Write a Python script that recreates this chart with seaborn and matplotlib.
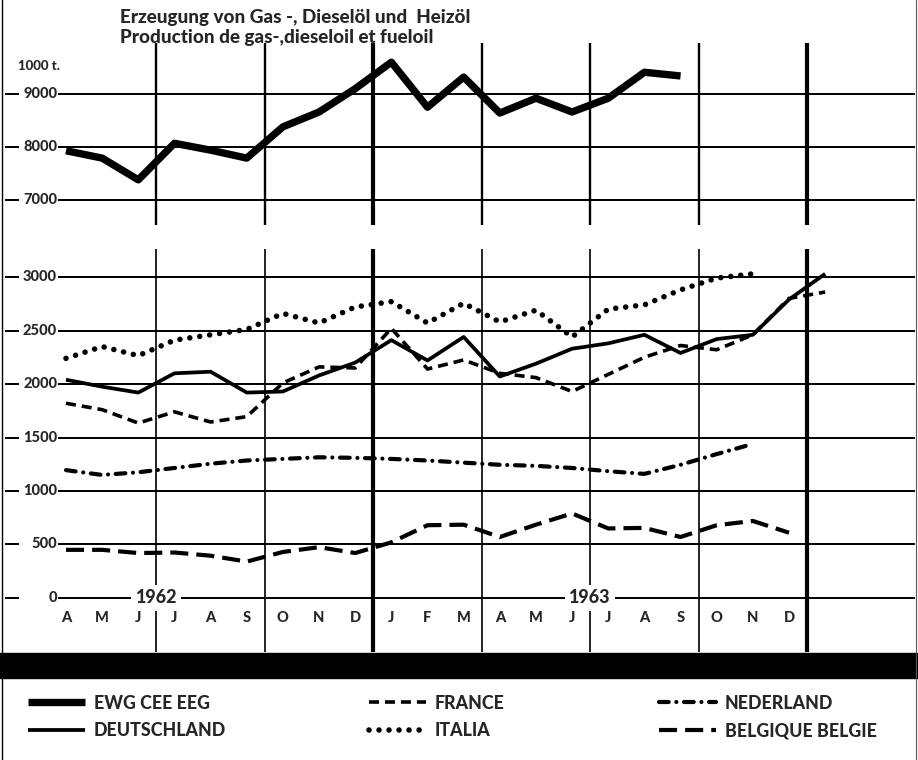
import seaborn as sns
import matplotlib.pyplot as plt
from matplotlib.lines import Line2D
from matplotlib.patches import Rectangle
import numpy as np

# Monate April 1962 .. Dezember 1963 (+ Januar 1964 fuer D und F)
months = ['A', 'M', 'J', 'J', 'A', 'S', 'O', 'N', 'D',
          'J', 'F', 'M', 'A', 'M', 'J', 'J', 'A', 'S', 'O', 'N', 'D']
years = ['1962', '1963']

# 1000 t
ewg = [7930, 7790, 7380, 8070, 7940, 7790, 8380, 8660, 9100,
       9600, 8750, 9320, 8640, 8920, 8660, 8920, 9410, 9340]
deutschland = [2040, 1975, 1920, 2100, 2115, 1920, 1930, 2080, 2200,
               2410, 2220, 2440, 2070, 2190, 2330, 2380, 2460, 2290,
               2420, 2460, 2790, 3030]
france = [1820, 1760, 1635, 1740, 1645, 1695, 2010, 2160, 2150,
          2520, 2140, 2225, 2100, 2060, 1930, 2090, 2250, 2360,
          2320, 2460, 2800, 2860]
italia = [2240, 2350, 2265, 2410, 2460, 2510, 2660, 2570, 2720,
          2770, 2570, 2755, 2580, 2690, 2440, 2700, 2740, 2880,
          2990, 3030]
nederland = [1195, 1150, 1175, 1215, 1255, 1285, 1300, 1315, 1310,
             1300, 1285, 1265, 1245, 1235, 1215, 1185, 1160, 1245,
             1345, 1440]
belgique = [450, 450, 420, 425, 395, 340, 430, 475, 420,
            520, 680, 685, 570, 685, 790, 650, 655, 570, 680, 720, 610]

top_ticks = [9000, 8000, 7000]
bot_ticks = [3000, 2500, 2000, 1500, 1000, 500, 0]

sns.set_style("white")
plt.rcParams['font.family'] = ['Lato', 'DejaVu Sans']
plt.rcParams['lines.scale_dashes'] = False
BOLD = 'black'

W, H = 918, 760
fig = plt.figure(figsize=(W / 100, H / 100), dpi=100)


def px_axes(x0, y0, x1, y1):
    return fig.add_axes([x0 / W, 1 - y1 / H, (x1 - x0) / W, (y1 - y0) / H])


# Pixelraster: Monat i liegt bei 66 + 36.15 * i
step, orig = 36.15, 66


def gx(p):
    return (p - orig) / step


ax_top = px_axes(3, 43, 916, 225)
ax_bot = px_axes(3, 249, 916, 652)
ax_top.set_ylim(6528, 9962)
ax_bot.set_ylim(-505, 3262)
for ax in (ax_top, ax_bot):
    ax.set_xlim(gx(3), gx(916))
    ax.set_axis_off()

# Gitter + Beschriftung
def grid(ax, ticks, size):
    for v in ticks:
        ax.hlines(v, gx(5), gx(19), color='black', lw=1.4, zorder=1)
        ax.hlines(v, gx(58), gx(915), color='black', lw=1.4, zorder=1)
        ax.text(gx(57), v, str(v), ha='right', va='center', fontsize=size,
                weight=BOLD, zorder=5)


grid(ax_top, top_ticks, 10.5)
grid(ax_bot, bot_ticks, 10.5)
ax_top.text(gx(18), 9528, '1000 t.', ha='left', va='center', fontsize=9.5,
            weight=BOLD)

bounds = [2.5, 5.5, 8.5, 11.5, 14.5, 17.5, 20.5]
for b in bounds:
    thick = b in (8.5, 20.5)
    ax_top.axvline(b, color='black', lw=3 if thick else 1.7, zorder=1)
    ax_bot.axvline(b, color='black', lw=3 if thick else 1.2, zorder=1)

# Linien
sns.lineplot(x=np.arange(len(ewg)), y=ewg, ax=ax_top, color='black', lw=5.3,
             solid_capstyle='butt', zorder=3)
h_ewg = ax_top.lines[-1]

sns.lineplot(x=np.arange(len(deutschland)), y=deutschland, ax=ax_bot,
             color='black', lw=2.7, solid_capstyle='butt', zorder=3)
h_de = ax_bot.lines[-1]
sns.lineplot(x=np.arange(len(france)), y=france, ax=ax_bot, color='black',
             lw=2.6, linestyle=(0, (7.2, 4.3)), dash_capstyle='butt', zorder=3)
h_fr = ax_bot.lines[-1]
sns.lineplot(x=np.arange(len(italia)), y=italia, ax=ax_bot, color='black',
             lw=4.0, linestyle=(0, (0.01, 7.2)), dash_capstyle='round', zorder=3)
h_it = ax_bot.lines[-1]
sns.lineplot(x=np.arange(len(nederland)), y=nederland, ax=ax_bot,
             color='black', lw=3.0, linestyle=(0, (7.0, 5.5, 0.01, 5.5)),
             dash_capstyle='round', zorder=3)
h_nl = ax_bot.lines[-1]
sns.lineplot(x=np.arange(len(belgique)), y=belgique, ax=ax_bot,
             color='black', lw=3.0, linestyle=(0, (13, 5.8)),
             dash_capstyle='butt', zorder=3)
h_be = ax_bot.lines[-1]

for ax in (ax_top, ax_bot):
    if ax.get_legend():
        ax.get_legend().remove()

# Monate und Jahre
for i, m in enumerate(months):
    ax_bot.text(i, -187, m, ha='center', va='center', fontsize=10.5,
                weight=BOLD)
for xpos, y in zip([2.5, 14.5], years):
    ax_bot.text(xpos, 0, y, ha='center', va='center', fontsize=13,
                weight=BOLD, zorder=6,
                bbox=dict(fc='white', ec='none', pad=3))

# Titel
fig.text(120 / W, 1 - 17 / H, 'Erzeugung von Gas -, Dieselöl und  Heizöl',
         ha='left', va='center', fontsize=13.6, weight=BOLD)
fig.text(120 / W, 1 - 38 / H, 'Production de gas-,dieseloil et fueloil',
         ha='left', va='center', fontsize=13.6, weight=BOLD)

# schwarzer Balken und Rahmen
fig.add_artist(Rectangle((0, 1 - 678 / H), 1, 25 / H,
                         transform=fig.transFigure, color='black'))
fig.add_artist(Line2D([1.5 / W] * 2, [0, 1], transform=fig.transFigure,
                      color='black', lw=1))
fig.add_artist(Line2D([916 / W] * 2, [0, 1], transform=fig.transFigure,
                      color='#555555', lw=0.8))

# Legende
prop = dict(weight=BOLD, size=12.8)
groups = [([h_ewg, h_de], ['EWG CEE EEG', 'DEUTSCHLAND'], 28),
          ([h_fr, h_it], ['FRANCE', 'ITALIA'], 369),
          ([h_nl, h_be], ['NEDERLAND', 'BELGIQUE BELGIE'], 659)]
for handles, labels, xl in groups:
    fig.legend(handles, labels, loc='center left',
               bbox_to_anchor=(xl / W, 1 - 717 / H), frameon=False,
               prop=prop, handlelength=3.2, handletextpad=0.5,
               labelspacing=0.6, borderpad=0, borderaxespad=0)

fig.savefig('out.png', dpi=100)
